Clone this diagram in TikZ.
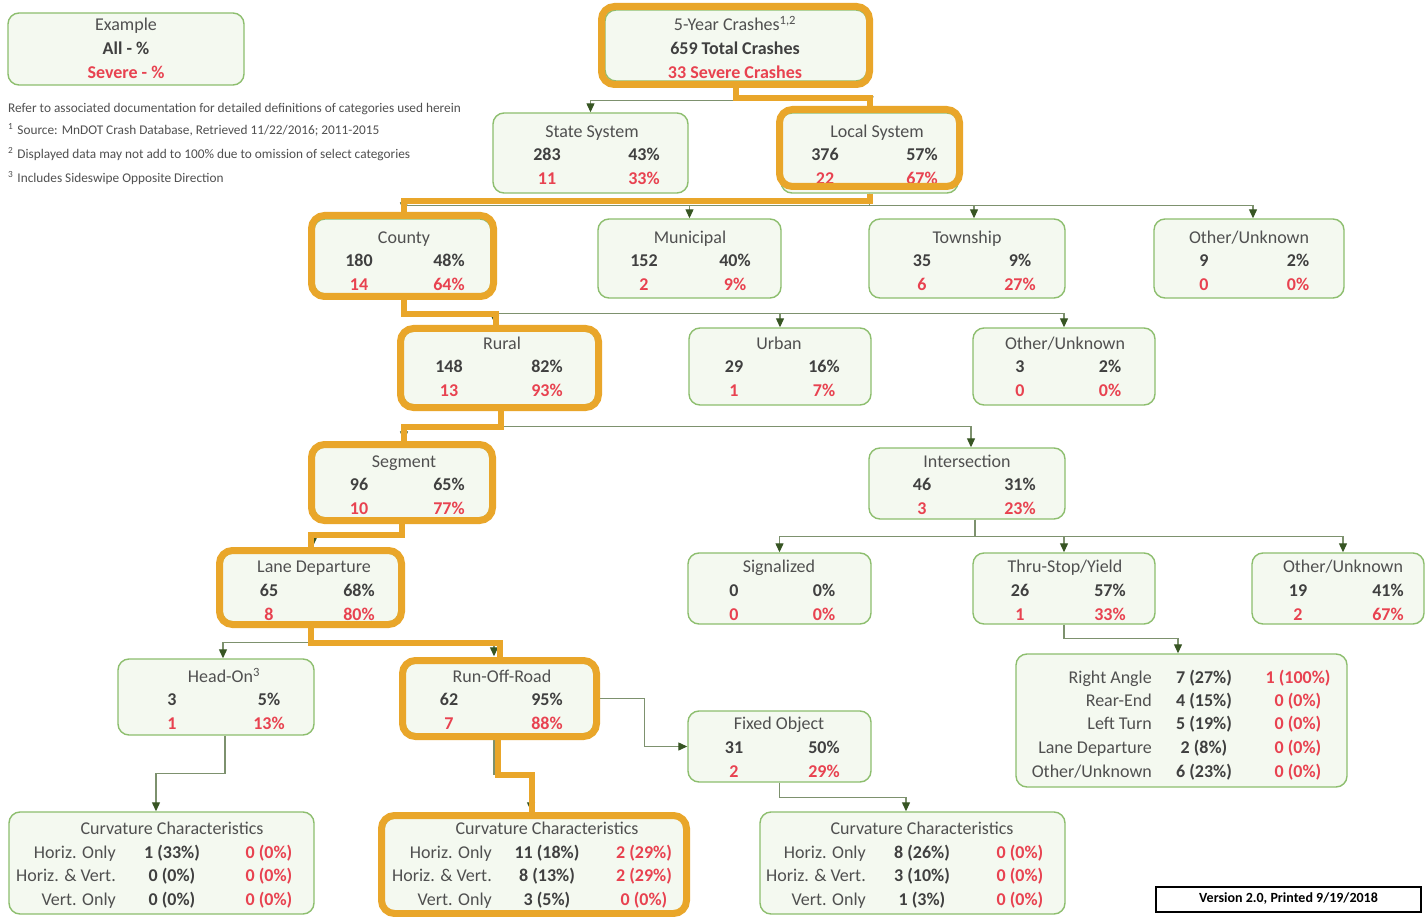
\documentclass[tikz,border=0pt]{standalone}
\usepackage{fontspec}
\setmainfont{Carlito}
\usetikzlibrary{arrows.meta}
\definecolor{boxfill}{RGB}{244,249,240}
\definecolor{boxline}{RGB}{141,190,110}
\definecolor{hlor}{RGB}{233,166,42}
\definecolor{ttlc}{RGB}{80,80,80}
\definecolor{numc}{RGB}{64,64,64}
\definecolor{sevc}{RGB}{232,66,80}
\definecolor{connc}{RGB}{125,145,110}
\definecolor{arrc}{RGB}{55,85,35}
\tikzset{
 gbox/.style={draw=boxline, fill=boxfill, line width=1.4pt, rounded corners=11pt, inner sep=0pt},
 txt/.style={inner sep=0pt, text height=11.5pt, text depth=0pt, font=\fontsize{18}{22}\selectfont},
 ttl/.style={txt, text=ttlc},
 num/.style={txt, text=numc, font=\fontsize{18}{22}\selectfont\bfseries},
 sev/.style={txt, text=sevc, font=\fontsize{18}{22}\selectfont\bfseries},
 lbl/.style={txt, text=ttlc, anchor=east},
 conn/.style={draw=connc, line width=1.2pt, -{Triangle[length=9pt,width=8pt,color=arrc]}},
 hlpath/.style={draw=hlor, line width=6pt},
 hlframe/.style={draw=hlor, line width=7pt, rounded corners=13pt},
 note/.style={inner sep=0pt, anchor=west, text=ttlc, text height=9pt, text depth=0pt, font=\fontsize{13.3}{16}\selectfont},
 verbox/.style={draw=black, line width=2pt, inner sep=0pt, minimum width=265pt, minimum height=25pt, text=black, font=\fontsize{14}{16}\selectfont\bfseries},
}
\newcommand\mkbox[5]{\node[gbox, minimum width={(#4-#2)*1pt}, minimum height={(#5-#3)*1pt}] (#1) at ({(#2+#4)/2},{(#3+#5)/2}) {};}
\newcommand\mktitle[4]{\node[ttl] (#1) at (#2,#3) {#4};}
\newcommand\mkrows[8]{%
 \node[num] (#1-a) at (#3,#2) {#5};
 \node[num] (#1-b) at (#4,#2) {#6};
 \node[sev] (#1-c) at (#3,{#2+23.5}) {#7};
 \node[sev] (#1-d) at (#4,{#2+23.5}) {#8};}
\newcommand\mkcrow[8]{%
 \node[lbl] (#1-l) at (#3,#2) {#6};
 \node[num] (#1-m) at (#4,#2) {#7};
 \node[sev] (#1-r) at (#5,#2) {#8};}
\begin{document}
\begin{tikzpicture}[x=1pt,y=-1pt]
\fill[white] (0,0) rectangle (1427,917);
\useasboundingbox (0,0) rectangle (1427,917);

% ---------- boxes ----------
\mkbox{ex}{8}{13}{244}{85}
\mkbox{top}{605}{10}{867}{81}
\mkbox{state}{493}{113}{688}{193}
\mkbox{local}{781}{113}{958}{193}
\mkbox{county}{314}{219}{491}{294}
\mkbox{muni}{598}{219}{781}{298}
\mkbox{town}{869}{219}{1065}{298}
\mkbox{othA}{1154}{219}{1344}{298}
\mkbox{rural}{403}{331}{596}{405}
\mkbox{urban}{689}{328}{871}{405}
\mkbox{othB}{973}{328}{1155}{405}
\mkbox{seg}{314}{447}{490}{518}
\mkbox{inter}{869}{448}{1065}{519}
\mkbox{lane}{222}{553}{399}{622}
\mkbox{sig}{688}{553}{871}{624}
\mkbox{thru}{973}{553}{1155}{624}
\mkbox{othC}{1252}{553}{1424}{624}
\mkbox{head}{118}{659}{314}{735}
\mkbox{ror}{405}{663}{594}{734}
\mkbox{fixed}{688}{711}{871}{782}
\mkbox{types}{1016}{654}{1347}{787}
\mkbox{curvA}{9}{812}{314}{914}
\mkbox{curvB}{384}{818}{686}{912}
\mkbox{curvC}{760}{812}{1065}{914}

% ---------- texts ----------
\mktitle{ex-t}{126}{25}{Example}
\node[num] (ex-a) at (126,49) {All - \%};
\node[sev] (ex-b) at (126,73) {Severe - \%};

\mktitle{top-t}{735}{25}{5-Year Crashes\textsuperscript{1,2}}
\node[num] (top-a) at (735,49) {659 Total Crashes};
\node[sev] (top-b) at (735,73) {33 Severe Crashes};

\node[note] (n0) at (8,108) {Refer to associated documentation for detailed definitions of categories used herein};
\node[note] (n1) at (8,130) {\textsuperscript{1}\hspace{4pt}Source: MnDOT Crash Database, Retrieved 11/22/2016; 2011-2015};
\node[note] (n2) at (8,154) {\textsuperscript{2}\hspace{4pt}Displayed data may not add to 100\% due to omission of select categories};
\node[note] (n3) at (8,178) {\textsuperscript{3}\hspace{4pt}Includes Sideswipe Opposite Direction};

\mktitle{state-t}{592}{132}{State System}
\mkrows{state}{155}{547}{644}{283}{43\%}{11}{33\%}
\mktitle{local-t}{877}{132}{Local System}
\mkrows{local}{155}{825}{922}{376}{57\%}{22}{67\%}
\mktitle{county-t}{404}{238}{County}
\mkrows{county}{261}{359}{449}{180}{48\%}{14}{64\%}
\mktitle{muni-t}{690}{238}{Municipal}
\mkrows{muni}{261}{644}{735}{152}{40\%}{2}{9\%}
\mktitle{town-t}{967}{238}{Township}
\mkrows{town}{261}{922}{1020}{35}{9\%}{6}{27\%}
\mktitle{othA-t}{1249}{238}{Other/Unknown}
\mkrows{othA}{261}{1204}{1298}{9}{2\%}{0}{0\%}
\mktitle{rural-t}{502}{344}{Rural}
\mkrows{rural}{367}{449}{547}{148}{82\%}{13}{93\%}
\mktitle{urban-t}{779}{344}{Urban}
\mkrows{urban}{367}{734}{824}{29}{16\%}{1}{7\%}
\mktitle{othB-t}{1065}{344}{Other/Unknown}
\mkrows{othB}{367}{1020}{1110}{3}{2\%}{0}{0\%}
\mktitle{seg-t}{404}{462}{Segment}
\mkrows{seg}{485}{359}{449}{96}{65\%}{10}{77\%}
\mktitle{inter-t}{967}{462}{Intersection}
\mkrows{inter}{485}{922}{1020}{46}{31\%}{3}{23\%}
\mktitle{lane-t}{314}{567}{Lane Departure}
\mkrows{lane}{591}{269}{359}{65}{68\%}{8}{80\%}
\mktitle{sig-t}{779}{567}{Signalized}
\mkrows{sig}{591}{734}{824}{0}{0\%}{0}{0\%}
\mktitle{thru-t}{1065}{567}{Thru-Stop/Yield}
\mkrows{thru}{591}{1020}{1110}{26}{57\%}{1}{33\%}
\mktitle{othC-t}{1343}{567}{Other/Unknown}
\mkrows{othC}{591}{1298}{1388}{19}{41\%}{2}{67\%}
\mktitle{head-t}{224}{677}{Head-On\textsuperscript{3}}
\mkrows{head}{700}{172}{269}{3}{5\%}{1}{13\%}
\mktitle{ror-t}{502}{677}{Run-Off-Road}
\mkrows{ror}{700}{449}{547}{62}{95\%}{7}{88\%}
\mktitle{fixed-t}{779}{724}{Fixed Object}
\mkrows{fixed}{748}{734}{824}{31}{50\%}{2}{29\%}

\mkcrow{ty1}{678}{1152}{1204}{1298}{Right Angle}{7 (27\%)}{1 (100\%)}
\mkcrow{ty2}{701}{1152}{1204}{1298}{Rear-End}{4 (15\%)}{0 (0\%)}
\mkcrow{ty3}{724}{1152}{1204}{1298}{Left Turn}{5 (19\%)}{0 (0\%)}
\mkcrow{ty4}{748}{1152}{1204}{1298}{Lane Departure}{2 (8\%)}{0 (0\%)}
\mkcrow{ty5}{772}{1152}{1204}{1298}{Other/Unknown}{6 (23\%)}{0 (0\%)}

\mktitle{curvA-t}{172}{829}{Curvature Characteristics}
\mkcrow{cA1}{853}{116}{172}{269}{Horiz. Only}{1 (33\%)}{0 (0\%)}
\mkcrow{cA2}{876}{116}{172}{269}{Horiz. \& Vert.}{0 (0\%)}{0 (0\%)}
\mkcrow{cA3}{900}{116}{172}{269}{Vert. Only}{0 (0\%)}{0 (0\%)}
\mktitle{curvB-t}{547}{829}{Curvature Characteristics}
\mkcrow{cB1}{853}{492}{547}{644}{Horiz. Only}{11 (18\%)}{2 (29\%)}
\mkcrow{cB2}{876}{492}{547}{644}{Horiz. \& Vert.}{8 (13\%)}{2 (29\%)}
\mkcrow{cB3}{900}{492}{547}{644}{Vert. Only}{3 (5\%)}{0 (0\%)}
\mktitle{curvC-t}{922}{829}{Curvature Characteristics}
\mkcrow{cC1}{853}{866}{922}{1020}{Horiz. Only}{8 (26\%)}{0 (0\%)}
\mkcrow{cC2}{876}{866}{922}{1020}{Horiz. \& Vert.}{3 (10\%)}{0 (0\%)}
\mkcrow{cC3}{900}{866}{922}{1020}{Vert. Only}{1 (3\%)}{0 (0\%)}

\node[verbox] (ver) at (1288.5,899) {Version 2.0, Printed 9/19/2018};

% ---------- connectors ----------
\draw[conn] (top.south) -- ++(0,19) -| (state.north);
\draw[conn] (top.south) -- ++(0,19) -| ([yshift=7pt]local.north);
\draw[conn] (local.south) -- ++(0,12) -| ([xshift=1.5pt,yshift=7pt]county.north);
\draw[conn] (local.south) -- ++(0,12) -| (muni.north);
\draw[conn] (local.south) -- ++(0,12) -| ([xshift=7pt]town.north);
\draw[conn] (local.south) -- ++(0,12) -| ([xshift=4pt]othA.north);
\draw[conn] ([xshift=1.5pt]county.south) -- ++(0,19) -| ([xshift=-4.5pt,yshift=6pt]rural.north);
\draw[conn] ([xshift=1.5pt]county.south) -- ++(0,19) -| (urban.north);
\draw[conn] ([xshift=1.5pt]county.south) -- ++(0,19) -| (othB.north);
\draw[conn] ([xshift=1.5pt]rural.south) -- ++(0,21) -| ([xshift=2pt,yshift=6pt]seg.north);
\draw[conn] ([xshift=1.5pt]rural.south) -- ++(0,21) -| ([xshift=4pt]inter.north);
\draw[conn] (seg.south) -- ++(0,17) -| ([xshift=2.5pt,yshift=6pt]lane.north);
\draw[conn] ([xshift=2.5pt]lane.south) -- ++(0,20) -| ([xshift=7pt]head.north);
\draw[conn] ([xshift=2.5pt]lane.south) -- ++(0,20) -| ([xshift=-5.5pt,yshift=6pt]ror.north);
\draw[conn] ([xshift=8pt]inter.south) -- ++(0,17) -| (sig.north);
\draw[conn] ([xshift=8pt]inter.south) -- ++(0,17) -| (thru.north);
\draw[conn] ([xshift=8pt]inter.south) -- ++(0,17) -| ([xshift=5pt]othC.north);
\draw[conn] (thru.south) -- ++(0,14) -| ([xshift=-3.5pt]types.north);
\draw[conn] ([xshift=9pt]head.south) -- ++(0,38) -| ([xshift=-5.5pt]curvA.north);
\draw[conn] ([xshift=-5.5pt]ror.south) -- ++(0,40) -| ([xshift=-4pt,yshift=6pt]curvB.north);
\draw[conn] (ror.east) -- ++(50,0) |- (fixed.west);
\draw[conn] (fixed.south) -- ++(0,15) -| ([xshift=-6.5pt]curvC.north);

% ---------- highlighted path ----------
\draw[hlpath] (top.south) -- ++(0,16) -| (local.north);
\draw[hlpath] (local.south) -- ++(0,7) -| ([xshift=1.5pt]county.north);
\draw[hlpath] ([xshift=1.5pt]county.south) -- ++(0,19) -| ([xshift=-3.5pt]rural.north);
\draw[hlpath] ([xshift=1.5pt]rural.south) -- ++(0,21) -| ([xshift=2pt]seg.north);
\draw[hlpath] (seg.south) -- ++(0,16) -| (lane.north);
\draw[hlpath] (lane.south) -- ++(0,20) -| (ror.north);
\draw[hlpath] ([xshift=-1.5pt]ror.south) -- ++(0,40) -| ([xshift=-3pt]curvB.north);

\draw[hlframe] (601.5,6.5) rectangle (869.5,84.5);
\draw[hlframe] (779.5,109.5) rectangle (959.5,186.5);
\draw[hlframe] (311.5,215.5) rectangle (493.5,296.5);
\draw[hlframe] (400.5,328.5) rectangle (598.5,407.5);
\draw[hlframe] (311.5,444.5) rectangle (492.5,520.5);
\draw[hlframe] (219.5,550.5) rectangle (401.5,624.5);
\draw[hlframe] (402.5,660.5) rectangle (596.5,736.5);
\draw[hlframe] (381.5,815.5) rectangle (686.5,913.5);
\end{tikzpicture}
\end{document}
